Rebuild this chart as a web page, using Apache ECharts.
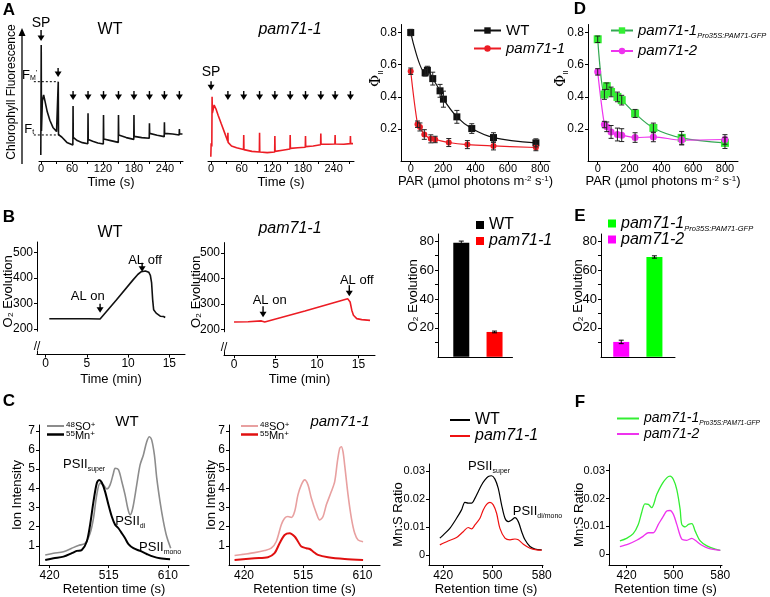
<!DOCTYPE html>
<html>
<head>
<meta charset="utf-8">
<script src="https://cdn.jsdelivr.net/npm/echarts@6/dist/echarts.min.js"></script>
<style>
html, body { margin: 0; padding: 0; background: #fff; }
#main { width: 770px; height: 597px; }
</style>
</head>
<body>
<div id="main"></div>
<script>
var FONT = '"Liberation Sans", Arial, sans-serif';

// A: chlorophyll fluorescence traces (relative units), time in s
var fluoWtTime = [-0.5, 0, 0.3, 0.8, 2.5, 5, 8, 12, 17, 23, 30, 33, 33.3, 33.8, 40, 50, 61.6, 62, 62.4, 70, 80, 90.6, 91, 91.4, 100, 110, 120.6, 121, 121.4, 135, 149.6, 150, 150.4, 165, 179.6, 180, 180.4, 195, 209.6, 210, 210.4, 225, 238.6, 239, 239.4, 255, 267.6, 268, 268.4, 274];
var fluoWtValue = [5, 5, 96.7, 25, 50, 55, 49, 41, 34, 28, 24.5, 23.5, 66.1, 22, 20, 15.5, 13.3, 45.8, 19.7, 17, 15.3, 14.4, 39.7, 18, 16.5, 15, 14.2, 38.3, 18.3, 17, 15.5, 38.3, 21.7, 19.5, 18, 38.3, 20.5, 19.5, 18.9, 31.4, 23, 21.5, 20.3, 32.2, 23, 22.5, 21.7, 26.7, 22.5, 22.5];
var fluoPamTime = [-0.5, 0, 0.2, 1.5, 2, 2.6, 6, 10, 14, 20, 27, 32.6, 33, 33.4, 40, 50, 63.6, 64, 64.4, 80, 94.6, 95, 95.4, 110, 124.6, 125, 125.4, 140, 154.6, 155, 155.4, 170, 184.6, 185, 185.4, 200, 214.6, 215, 215.4, 230, 242.6, 243, 243.4, 260, 272.6, 273, 273.4, 278];
var fluoPamValue = [3.6, 3.6, 14.7, 12, 53.6, 40, 46.7, 43, 38, 31, 23, 16.5, 23.6, 15.5, 12.5, 11, 9.5, 21.7, 9.5, 8, 7.5, 23.6, 7.5, 7, 7.5, 20.8, 8, 9, 10, 21.7, 10.5, 11, 11.5, 20.8, 12, 12.5, 13.5, 23, 14, 14, 14.2, 21.7, 14.2, 14, 14.5, 20.8, 14.5, 14.5];
var pulseWt = [0, 33, 62, 91, 121, 150, 180, 210, 239, 268];
var pulsePam = [0, 33, 64, 95, 125, 155, 185, 215, 243, 273];
var fluoTicks = [0, 30, 60, 90, 120, 150, 180, 210, 240, 270];
var fluoLabels = [0, 60, 120, 180, 240];

// A/D: PSII yield vs light
var parWt = [0, 89, 103, 136, 181, 202, 285, 377, 511, 773];
var phiWt = [0.80, 0.549, 0.565, 0.513, 0.437, 0.385, 0.275, 0.202, 0.146, 0.113];
var phiWtErr = [0.02, 0.02, 0.025, 0.04, 0.04, 0.05, 0.04, 0.03, 0.03, 0.025];
var parPam = [0, 42, 57, 84, 124, 151, 235, 350, 511, 773];
var phiPam = [0.559, 0.229, 0.212, 0.165, 0.138, 0.134, 0.115, 0.102, 0.094, 0.084];
var phiPamErr = [0.02, 0.02, 0.025, 0.03, 0.025, 0.02, 0.025, 0.025, 0.025, 0.02];
var parComp = [0, 42, 57, 84, 124, 151, 235, 350, 528, 800];
var phiComp = [0.758, 0.414, 0.466, 0.430, 0.399, 0.379, 0.296, 0.206, 0.144, 0.113];
var phiCompErr = [0.02, 0.03, 0.02, 0.03, 0.03, 0.03, 0.025, 0.03, 0.04, 0.035];
var phiPam2 = [0.555, 0.227, 0.213, 0.181, 0.165, 0.161, 0.146, 0.150, 0.130, 0.134];
var phiPam2Err = [0.02, 0.02, 0.03, 0.04, 0.04, 0.04, 0.03, 0.03, 0.03, 0.03];
var parTicks = [0, 200, 400, 600, 800];
var phiTicks = [0.2, 0.4, 0.6, 0.8];

// B: O2 evolution traces, time in min
var o2WtTime = [0.44, 5.2, 5.3, 6.6, 8.6, 10.6, 11.2, 11.6, 12.1, 12.5, 12.7, 12.85, 12.98, 13.1, 13.4, 13.9, 14.1, 14.3, 14.5];
var o2WtValue = [240, 240, 238, 239, 314, 392, 414, 424, 427, 422, 410, 380, 314, 275, 262, 250, 243, 249, 245];
var o2PamTime = [0.0, 1.7, 3.3, 3.7, 8.55, 13.7, 14.0, 14.2, 14.4, 14.8, 15.4, 16.4];
var o2PamValue = [230, 231, 234, 230, 273, 321, 308, 276, 256, 243, 239, 236];
var o2TimeTicks = [0, 5, 10, 15];
var o2Ticks = [200, 300, 400, 500];

// B/E: O2 evolution rates
var rateNames = ['WT', 'pam71-1'];
var rateValues = [78.9, 17.2];
var rateErr = [1.2, 0.6];
var rateCompNames = ['pam71-2', 'pam71-1'];
var rateCompValues = [10.3, 69.1];
var rateCompErr = [1.2, 0.8];
var rateTicks = [20, 40, 60, 80];

// C: ICP-MS traces, retention time in s
var soWtTime = [413, 426.3, 442.3, 455.7, 466.4, 477.1, 485.1, 490.5, 495.8, 501.2, 506.5, 511.9, 517.2, 522.6, 525.3, 530.6, 536, 541.3, 545.6, 549.3, 553.6, 560, 565.4, 570.7, 576.1, 580.4, 584.1, 588.4, 592.2, 597.5, 602.9, 608.2, 614.6];
var soWtValue = [0.53, 0.62, 0.70, 0.88, 1.02, 1.14, 1.66, 2.44, 3.66, 4.27, 4.18, 3.97, 4.18, 4.79, 5.05, 4.98, 4.36, 3.66, 2.96, 2.62, 2.96, 4.18, 5.22, 5.74, 6.43, 6.69, 6.51, 5.74, 4.53, 3.30, 2.27, 1.49, 0.88];
var mnWtTime = [413, 426.3, 442.3, 455.7, 463.7, 471.7, 479.8, 485.1, 490.5, 495.8, 499.6, 503.9, 509.2, 514.6, 519.9, 525.3, 530.6, 536, 541.3, 546.7, 554.7, 565.4, 576.1, 586.8, 597.5, 613.6];
var mnWtValue = [0.27, 0.36, 0.44, 0.62, 0.74, 0.79, 1.23, 2.10, 3.31, 4.27, 4.44, 4.30, 3.83, 3.14, 2.53, 2.10, 1.92, 1.66, 1.40, 1.09, 0.88, 0.74, 0.58, 0.44, 0.36, 0.31];
var soPamTime = [404.9, 420.9, 437, 453, 463.7, 471.8, 479.8, 485.1, 490.5, 495.8, 501.2, 506.5, 511.9, 517.2, 522.6, 528, 536, 541.3, 546.7, 552, 560, 565.4, 569.7, 573.4, 576.1, 578.7, 581.4, 586.8, 592.2, 597.5, 602.9, 610.9];
var soPamValue = [0.50, 0.57, 0.65, 0.76, 0.88, 1.23, 2.10, 2.44, 2.53, 2.48, 2.79, 3.66, 4.18, 4.44, 4.18, 3.48, 2.70, 2.35, 2.53, 3.14, 3.83, 4.35, 5.39, 6.08, 6.17, 5.91, 5.21, 3.66, 2.44, 1.66, 1.31, 1.22];
var mnPamTime = [404.9, 437, 458.4, 469, 477.1, 485.1, 493.2, 501.2, 506.5, 511.9, 519.9, 525.3, 530.6, 538.6, 554.7, 581.4, 610.9];
var mnPamValue = [0.27, 0.36, 0.41, 0.62, 1.14, 1.57, 1.66, 1.49, 1.23, 0.97, 0.88, 0.84, 0.71, 0.53, 0.41, 0.32, 0.27];
var icpTicks = [420, 515, 610];
var ionTicks = [1, 2, 3, 4, 5, 6, 7];

// C/F: Mn:S ratio
var ratioWtTime = [414.6, 420, 430.8, 441.7, 449.8, 455.2, 460.7, 466.1, 471.5, 476.9, 482.3, 487.8, 493.2, 498.6, 504, 509.4, 514.8, 520.3, 525.7, 531.1, 536.5, 541.9, 547.4, 552.8, 560.9, 569, 579.9];
var ratioWtValue = [0.0060, 0.0071, 0.0095, 0.0131, 0.0161, 0.0188, 0.0185, 0.0185, 0.0202, 0.0226, 0.0250, 0.0268, 0.0280, 0.0283, 0.0271, 0.0238, 0.0179, 0.0131, 0.0119, 0.0125, 0.0133, 0.0119, 0.0083, 0.0054, 0.0030, 0.0021, 0.0018];
var ratioPamTime = [414.6, 428.1, 441.7, 452.5, 460.7, 466.1, 471.5, 479.7, 485, 490.5, 495.9, 501.3, 506.7, 512.1, 520.3, 528.5, 536.5, 541.9, 550.1, 560.9, 571.8, 579.9];
var ratioPamValue = [0.0036, 0.0050, 0.0062, 0.0083, 0.0098, 0.0093, 0.0107, 0.0131, 0.0161, 0.0181, 0.0188, 0.0179, 0.0149, 0.0095, 0.0060, 0.0054, 0.0057, 0.0054, 0.0038, 0.0024, 0.0018, 0.0017];
var ratioCompTime = [408.6, 420, 431.4, 440, 445.7, 451.4, 457.2, 462.9, 471.5, 480, 488.6, 494.3, 500, 505.8, 511.5, 514.3, 520.1, 525.8, 531.5, 537.2, 545.8, 557.2, 571.5, 580.1];
var ratioCompValue = [0.0048, 0.0057, 0.0074, 0.0107, 0.0149, 0.0181, 0.0179, 0.0167, 0.0214, 0.0250, 0.0274, 0.0280, 0.0268, 0.0232, 0.0161, 0.0107, 0.0098, 0.0107, 0.0110, 0.0083, 0.0048, 0.0030, 0.0018, 0.0014];
var ratioPam2Time = [408.6, 422.9, 437.2, 448.6, 457.2, 465.7, 474.3, 482.9, 488.6, 494.3, 500, 505.8, 514.3, 522.9, 531.5, 537.2, 548.6, 560.1, 580.1];
var ratioPam2Value = [0.0027, 0.0036, 0.0050, 0.0065, 0.0077, 0.0077, 0.0107, 0.0137, 0.0155, 0.0157, 0.0143, 0.0107, 0.0054, 0.0050, 0.0057, 0.0050, 0.0032, 0.0021, 0.0014];
var ratioTimeTicks = [420, 500, 580];
var ratioTicks = [0, 0.01, 0.02, 0.03];

var BLACK = '#111111';
var RED = '#ec1c24';
var GREEN = '#33ee33';
var GREEN_LINE = '#33a852';
var MAGENTA = '#ee33ee';
var COMP_SUB = 'Pro35S:PAM71-GFP';

var zip = function(xs, ys) {
	return xs.map(function(x, i) { return [x, ys[i]]; });
};

var rich = {
	n: { fontSize: 15, fontFamily: FONT, color: '#000', lineHeight: 18 },
	i: { fontSize: 15, fontFamily: FONT, fontStyle: 'italic', color: '#000', lineHeight: 18 },
	b: { fontSize: 16, fontFamily: FONT, color: '#000', lineHeight: 18 },
	bi: { fontSize: 16, fontFamily: FONT, fontStyle: 'italic', color: '#000', lineHeight: 18 },
	fi: { fontSize: 14, fontFamily: FONT, fontStyle: 'italic', color: '#000', lineHeight: 17 },
	s: { fontSize: 7.5, fontFamily: FONT, fontStyle: 'italic', color: '#000', verticalAlign: 'bottom', lineHeight: 9 },
	fs: { fontSize: 6.6, fontFamily: FONT, fontStyle: 'italic', color: '#000', verticalAlign: 'bottom', lineHeight: 8 },
	m: { fontSize: 13, fontFamily: FONT, color: '#000', lineHeight: 16 },
	ms: { fontSize: 7, fontFamily: FONT, color: '#000', verticalAlign: 'bottom', lineHeight: 8 },
	p: { fontSize: 8, fontFamily: FONT, color: '#000', verticalAlign: 'top', lineHeight: 9 },
	e: { fontSize: 11, fontFamily: FONT, color: '#000', lineHeight: 12 },
	phi: { fontSize: 15, fontFamily: 'DejaVu Serif, serif', color: '#000', lineHeight: 18 },
	phis: { fontSize: 8, fontFamily: FONT, color: '#000', verticalAlign: 'bottom', lineHeight: 9 }
};

var legendText = {
	'a-wt': '{n|WT}',
	'a-pam': '{i|pam71-1}',
	'd-comp': '{i|pam71-1}{s|' + COMP_SUB + '}',
	'd-pam2': '{i|pam71-2}',
	'b-wt': '{b|' + rateNames[0] + '}',
	'b-pam': '{bi|' + rateNames[1] + '}',
	'e-comp': '{bi|' + rateCompNames[1] + '}{s|' + COMP_SUB + '}',
	'e-pam2': '{bi|' + rateCompNames[0] + '}',
	'c-wt': '{b|WT}',
	'c-pam': '{bi|pam71-1}',
	'f-comp': '{fi|pam71-1}{fs|' + COMP_SUB + '}',
	'f-pam2': '{fi|pam71-2}'
};

var grids = [
	{ left: 39, top: 41, width: 144, height: 120 },
	{ left: 208, top: 41, width: 146, height: 120 },
	{ left: 401, top: 24.5, width: 149, height: 136.5 },
	{ left: 588, top: 24.5, width: 150, height: 136.5 },
	{ left: 37, top: 242, width: 148, height: 112.6 },
	{ left: 224, top: 242.6, width: 151, height: 112.6 },
	{ left: 438, top: 234, width: 74.5, height: 122.8 },
	{ left: 601, top: 234, width: 74, height: 122.8 },
	{ left: 39, top: 425, width: 150, height: 140.2 },
	{ left: 229, top: 425, width: 151, height: 140.2 },
	{ left: 429, top: 464, width: 114, height: 101 },
	{ left: 609, top: 464.5, width: 113, height: 101.5 }
];

var merge = function(a, b) {
	for (var k in b) {
		if (typeof b[k] === 'object' && a[k] && !Array.isArray(b[k])) {
			for (var j in b[k]) a[k][j] = b[k][j];
		} else {
			a[k] = b[k];
		}
	}
	return a;
};

var valueAxis = function(idx, min, max, ticks, labels, extra) {
	var ax = {
		type: 'value', gridIndex: idx, min: min, max: max,
		splitLine: { show: false },
		axisLine: { onZero: false, lineStyle: { color: '#000', width: 1 } },
		axisTick: { customValues: ticks, length: 3, lineStyle: { color: '#000' } },
		axisLabel: { customValues: labels || ticks, color: '#000', fontFamily: FONT, fontSize: 12, margin: 4 },
		nameTextStyle: { color: '#000', fontFamily: FONT, fontSize: 13, rich: rich }
	};
	return merge(ax, extra || {});
};

// left-side name, rotated, placed at a fixed gap from the axis line
var yName = function(name, gap, shift) {
	return {
		name: name, nameLocation: 'middle', nameGap: gap, nameRotate: 90, nameMoveOverlap: false,
		nameTextStyle: { padding: [0, 0, 0, shift || 0] }
	};
};

var barAxis = function(idx, min, max) {
	return {
		type: 'value', gridIndex: idx, min: min, max: max,
		splitLine: { show: false },
		axisLine: { onZero: false, lineStyle: { color: '#000' } },
		axisTick: { show: false }, axisLabel: { show: false }
	};
};

var xAxes = [
	valueAxis(0, -4, 275, fluoTicks, fluoLabels, { name: 'Time (s)', nameLocation: 'middle', nameGap: 15, axisLabel: { fontSize: 11, margin: 2 } }),
	valueAxis(1, -6, 280, fluoTicks, fluoLabels, { name: 'Time (s)', nameLocation: 'middle', nameGap: 15, axisLabel: { fontSize: 11, margin: 2 } }),
	valueAxis(2, -60, 860, parTicks, null, { name: 'PAR (µmol photons m{p|-2} s{p|-1})', nameLocation: 'middle', nameGap: 14, axisLabel: { fontSize: 11, margin: 2 } }),
	valueAxis(3, -61, 882, parTicks, null, { name: 'PAR (µmol photons m{p|-2} s{p|-1})', nameLocation: 'middle', nameGap: 14, axisLabel: { fontSize: 11, margin: 2 } }),
	valueAxis(4, -1.05, 16.9, o2TimeTicks, null, { name: 'Time (min)', nameLocation: 'middle', nameGap: 18, axisLabel: { margin: 3 } }),
	valueAxis(5, -1.21, 17.0, o2TimeTicks, null, { name: 'Time (min)', nameLocation: 'middle', nameGap: 18, axisLabel: { margin: 3 } }),
	barAxis(6, -0.70, 1.54),
	barAxis(7, -0.61, 1.62),
	valueAxis(8, 403, 644, icpTicks, null, { name: 'Retention time (s)', nameLocation: 'middle', nameGap: 17, axisLabel: { margin: 5 } }),
	valueAxis(9, 396, 638, icpTicks, null, { name: 'Retention time (s)', nameLocation: 'middle', nameGap: 17, axisLabel: { margin: 5 } }),
	valueAxis(10, 397, 582, ratioTimeTicks, null, { name: 'Retention time (s)', nameLocation: 'middle', nameGap: 17, axisLabel: { margin: 5 } }),
	valueAxis(11, 390, 583, ratioTimeTicks, null, { name: 'Retention time (s)', nameLocation: 'middle', nameGap: 17, axisLabel: { margin: 5 } })
];

var phiLabel = function(v) { return v.toFixed(1); };
var ratioLabel = function(v) { return v === 0 ? '0' : v.toFixed(2); };
var rateMinor = [10, 20, 30, 40, 50, 60, 70, 80];

var yAxes = [
	{ type: 'value', gridIndex: 0, min: 0, max: 100, show: false },
	{ type: 'value', gridIndex: 1, min: 0, max: 100, show: false },
	merge(valueAxis(2, 0, 0.85, phiTicks, null, { axisLabel: { formatter: phiLabel, fontSize: 12 } }), yName('{phi|Φ}{phis|II}', 16, 28)),
	merge(valueAxis(3, 0, 0.85, phiTicks, null, { axisLabel: { formatter: phiLabel, fontSize: 12 } }), yName('{phi|Φ}{phis|II}', 18, 28)),
	merge(valueAxis(4, 100, 540, o2Ticks, null, {}), yName('O₂ Evolution', 22, 14)),
	merge(valueAxis(5, 100, 540, o2Ticks, null, {}), yName('O₂ Evolution', 21, 14)),
	merge(valueAxis(6, 0, 85, rateMinor, rateTicks, { axisLabel: { fontSize: 13 } }), yName('O₂ Evolution', 18, 0)),
	merge(valueAxis(7, 0, 85, rateMinor, rateTicks, { axisLabel: { fontSize: 13 } }), yName('O₂ Evolution', 16, 0)),
	merge(valueAxis(8, 0, 7.3, ionTicks, null, {}), yName('Ion Intensity', 15, 0)),
	merge(valueAxis(9, 0, 7.3, ionTicks, null, {}), yName('Ion Intensity', 11, 0)),
	merge(valueAxis(10, -0.0036, 0.0325, ratioTicks, null, { axisLabel: { formatter: ratioLabel, fontSize: 11 } }), yName('Mn:S Ratio', 24.5, 0)),
	merge(valueAxis(11, -0.0039, 0.0322, ratioTicks, null, { axisLabel: { formatter: ratioLabel, fontSize: 11 } }), yName('Mn:S Ratio', 23.5, 0))
];

var trace = function(name, idx, xs, ys, color, width, smooth) {
	return {
		type: 'line', name: name, xAxisIndex: idx, yAxisIndex: idx,
		data: zip(xs, ys), symbol: 'none', smooth: smooth || false,
		lineStyle: { color: color, width: width }, itemStyle: { color: color },
		silent: true
	};
};

var yieldLine = function(name, idx, xs, ys, color, lineColor, symbol, size) {
	return {
		type: 'line', name: name, xAxisIndex: idx, yAxisIndex: idx,
		data: zip(xs, ys), smooth: 0.35, symbol: symbol, symbolSize: size,
		lineStyle: { color: lineColor, width: 1.2 }, itemStyle: { color: color },
		z: 3
	};
};

var errorBars = function(idx, xs, ys, errs, color) {
	return {
		type: 'custom', xAxisIndex: idx, yAxisIndex: idx, silent: true, z: 4,
		data: xs.map(function(x, i) { return [x, ys[i] - errs[i], ys[i] + errs[i]]; }),
		encode: { x: 0, y: [1, 2] },
		renderItem: function(params, api) {
			var lo = api.coord([api.value(0), api.value(1)]);
			var hi = api.coord([api.value(0), api.value(2)]);
			var st = { stroke: color, lineWidth: 1 };
			return {
				type: 'group',
				children: [
					{ type: 'line', shape: { x1: lo[0], y1: lo[1], x2: hi[0], y2: hi[1] }, style: st },
					{ type: 'line', shape: { x1: lo[0] - 2.5, y1: lo[1], x2: lo[0] + 2.5, y2: lo[1] }, style: st },
					{ type: 'line', shape: { x1: hi[0] - 2.5, y1: hi[1], x2: hi[0] + 2.5, y2: hi[1] }, style: st }
				]
			};
		}
	};
};

var oneBar = function(name, idx, values, pos, color) {
	return {
		type: 'bar', name: name, xAxisIndex: idx, yAxisIndex: idx,
		data: [[pos, values[pos]]],
		barWidth: 16, barGap: '-100%', itemStyle: { color: color }
	};
};

var series = [
	trace('a-trace-wt', 0, fluoWtTime, fluoWtValue, BLACK, 1.6),
	trace('a-trace-pam', 1, fluoPamTime, fluoPamValue, RED, 1.6),
	errorBars(2, parWt, phiWt, phiWtErr, '#222'),
	errorBars(2, parPam, phiPam, phiPamErr, '#222'),
	yieldLine('a-wt', 2, parWt, phiWt, BLACK, BLACK, 'rect', 7),
	yieldLine('a-pam', 2, parPam, phiPam, RED, RED, 'circle', 6),
	errorBars(3, parComp, phiComp, phiCompErr, '#222'),
	errorBars(3, parComp, phiPam2, phiPam2Err, '#222'),
	yieldLine('d-comp', 3, parComp, phiComp, GREEN, GREEN_LINE, 'rect', 8),
	yieldLine('d-pam2', 3, parComp, phiPam2, MAGENTA, MAGENTA, 'circle', 7),
	trace('b-trace-wt', 4, o2WtTime, o2WtValue, BLACK, 1.6),
	trace('b-trace-pam', 5, o2PamTime, o2PamValue, RED, 1.6),
	oneBar('b-wt', 6, rateValues, 0, '#000000'),
	oneBar('b-pam', 6, rateValues, 1, '#ff0000'),
	errorBars(6, [0, 1], rateValues, rateErr, '#000'),
	oneBar('e-pam2', 7, rateCompValues, 0, '#ff00ff'),
	oneBar('e-comp', 7, rateCompValues, 1, '#00ff00'),
	errorBars(7, [0, 1], rateCompValues, rateCompErr, '#000'),
	trace('c-so-wt', 8, soWtTime, soWtValue, '#8c8c8c', 1.6, 0.3),
	trace('c-mn-wt', 8, mnWtTime, mnWtValue, '#000000', 2, 0.3),
	trace('c-so-pam', 9, soPamTime, soPamValue, '#e8a0a0', 1.6, 0.3),
	trace('c-mn-pam', 9, mnPamTime, mnPamValue, '#e01010', 2, 0.3),
	trace('c-wt', 10, ratioWtTime, ratioWtValue, '#000000', 1.2, 0.3),
	trace('c-pam', 10, ratioPamTime, ratioPamValue, '#ee1111', 1.2, 0.3),
	trace('f-comp', 11, ratioCompTime, ratioCompValue, GREEN, 1.3, 0.3),
	trace('f-pam2', 11, ratioPam2Time, ratioPam2Value, MAGENTA, 1.3, 0.3)
];

var legendBox = function(names, left, top, iw, ih, gap, icon) {
	return {
		orient: 'vertical', left: left, top: top, padding: 0,
		itemWidth: iw, itemHeight: ih, itemGap: gap, selectedMode: false,
		data: names.map(function(n) { return icon ? { name: n, icon: icon } : { name: n }; }),
		formatter: function(n) { return legendText[n]; },
		textStyle: { rich: rich }
	};
};

var legends = [
	legendBox(['a-wt', 'a-pam'], 473, 23, 27, 8, 3),
	legendBox(['d-comp', 'd-pam2'], 610, 23, 22, 8, 4),
	legendBox(['b-wt', 'b-pam'], 476, 217, 8, 8, 0, 'rect'),
	legendBox(['e-comp', 'e-pam2'], 608, 215.5, 8, 8, -1, 'rect'),
	legendBox(['c-wt', 'c-pam'], 450, 412, 20, 2, 0, 'rect'),
	legendBox(['f-comp', 'f-pam2'], 617, 411.5, 22, 2, 0, 'rect')
];

var chart = echarts.init(document.getElementById('main'), null, { renderer: 'canvas' });
chart.setOption({
	animation: false,
	backgroundColor: '#ffffff',
	grid: grids,
	xAxis: xAxes,
	yAxis: yAxes,
	legend: legends,
	series: series
});

// annotations placed through the axes
var px = function(idx, x, y) { return chart.convertToPixel({ gridIndex: idx }, [x, y]); };
var g = [];
var text = function(x, y, str, size, opt) {
	opt = opt || {};
	g.push({
		type: 'text', x: x, y: y, rotation: opt.rotation || 0, z: 50,
		style: {
			text: str, fontFamily: FONT, fontSize: size, fontWeight: opt.bold ? 'bold' : 'normal',
			fontStyle: opt.italic ? 'italic' : 'normal', fill: '#000',
			align: opt.align || 'center', verticalAlign: 'middle', rich: rich
		}
	});
};
var arrow = function(p, len) {
	g.push({ type: 'line', z: 50, shape: { x1: p[0], y1: p[1] - len, x2: p[0], y2: p[1] - 4 }, style: { stroke: '#000', lineWidth: 1.4 } });
	g.push({ type: 'polygon', z: 50, shape: { points: [[p[0] - 3.5, p[1] - 5.5], [p[0] + 3.5, p[1] - 5.5], [p[0], p[1]]] }, style: { fill: '#000' } });
};
var dotted = function(a, b) {
	g.push({ type: 'line', z: 50, shape: { x1: a[0], y1: a[1], x2: b[0], y2: b[1] }, style: { stroke: '#000', lineWidth: 1, lineDash: [2, 2] } });
};

// panel letters and titles
text(9, 10, 'A', 17, { bold: true });
text(9, 217, 'B', 17, { bold: true });
text(9, 401, 'C', 17, { bold: true });
text(580, 9, 'D', 17, { bold: true });
text(580, 216, 'E', 17, { bold: true });
text(580, 402, 'F', 17, { bold: true });
text(110, 30, 'WT', 16);
text(290, 30, 'pam71-1', 16, { italic: true });
text(110, 233, 'WT', 16);
text(290, 229, 'pam71-1', 16, { italic: true });
text(127, 422, 'WT', 15);
text(340, 422, 'pam71-1', 15, { italic: true });

// A: fluorescence annotations
g.push({ type: 'line', z: 50, shape: { x1: 22, y1: 164, x2: 22, y2: 34 }, style: { stroke: '#000', lineWidth: 1.3 } });
g.push({ type: 'polygon', z: 50, shape: { points: [[18.5, 36], [25.5, 36], [22, 28]] }, style: { fill: '#000' } });
text(12, 92, 'Chlorophyll Fluorescence', 12, { rotation: Math.PI / 2 });
pulseWt.forEach(function(t, i) {
	var tip = i === 0 ? 100 : (i === 1 ? 70 : 50.8);
	arrow(px(0, t, tip), i === 0 ? 11 : 9);
});
pulsePam.forEach(function(t, i) {
	arrow(px(1, t, i === 0 ? 59 : 50.8), 9);
});
var sp1 = px(0, 0, 115);
text(sp1[0], sp1[1], 'SP', 14);
var sp2 = px(1, 0, 74);
text(sp2[0], sp2[1], 'SP', 14);
dotted(px(0, -14, 66.1), px(0, 33, 66.1));
dotted(px(0, -14, 21.7), px(0, 36, 21.7));
var fm = px(0, -22, 71.7);
text(fm[0], fm[1], 'F{ms|M}{p|\'}', 13);
var ft = px(0, -23, 26.7);
text(ft[0], ft[1], 'F{ms|t}', 13);

// B: light on/off
var onWt = px(4, 6.6, 263.7);
arrow(onWt, 9);
var onWtT = px(4, 5.1, 326);
text(onWtT[0], onWtT[1], 'AL on', 13);
var offWt = px(4, 11.7, 424);
arrow(offWt, 9);
var offWtT = px(4, 12.05, 467);
text(offWtT[0], offWtT[1], 'AL off', 13);
var onPam = px(5, 3.5, 248);
arrow(onPam, 11);
var onPamT = px(5, 4.3, 314);
text(onPamT[0], onPamT[1], 'AL on', 13);
var offPam = px(5, 13.9, 330);
arrow(offPam, 11);
var offPamT = px(5, 14.8, 393);
text(offPamT[0], offPamT[1], 'AL off', 13);
[4, 5].forEach(function(idx) {
	var xmin = idx === 4 ? -1.05 : -1.21;
	var top = px(idx, xmin, 190);
	var bot = px(idx, xmin, 116);
	var mid = px(idx, xmin, 150);
	g.push({ type: 'rect', z: 49, shape: { x: top[0] - 3, y: top[1], width: 6, height: bot[1] - top[1] }, style: { fill: '#fff' } });
	text(mid[0], mid[1] + 5, '//', 12);
});

// C: peak labels and element legends
var sup1 = px(8, 475.5, 5.22);
text(sup1[0], sup1[1], '{m|PSII}{ms|super}', 13);
var di1 = px(8, 549.5, 2.27);
text(di1[0], di1[1], '{m|PSII}{ms|di}', 13);
var mono1 = px(8, 597.6, 0.9);
text(mono1[0], mono1[1], '{m|PSII}{ms|mono}', 13);
var sup3 = px(10, 494.3, 0.0315);
text(sup3[0], sup3[1], '{m|PSII}{ms|super}', 13);
var dm3 = px(10, 573, 0.0155);
text(dm3[0], dm3[1], '{m|PSII}{ms|di/mono}', 13);

var elementLegend = function(x0, rows) {
	rows.forEach(function(r) {
		g.push({ type: 'line', z: 50, shape: { x1: x0, y1: r.y, x2: x0 + 17, y2: r.y }, style: { stroke: r.color, lineWidth: r.w } });
		text(x0 + 19, r.y + 1, r.label, 11, { align: 'left' });
	});
};
elementLegend(47, [
	{ y: 426, color: '#8c8c8c', w: 2, label: '{p|48}{e|SO}{p|+}' },
	{ y: 434.5, color: '#000', w: 2.5, label: '{p|55}{e|Mn}{p|+}' }
]);
elementLegend(241, [
	{ y: 426, color: '#e8a0a0', w: 2, label: '{p|48}{e|SO}{p|+}' },
	{ y: 434.5, color: '#e01010', w: 2.5, label: '{p|55}{e|Mn}{p|+}' }
]);

chart.setOption({ graphic: g });
</script>
</body>
</html>
